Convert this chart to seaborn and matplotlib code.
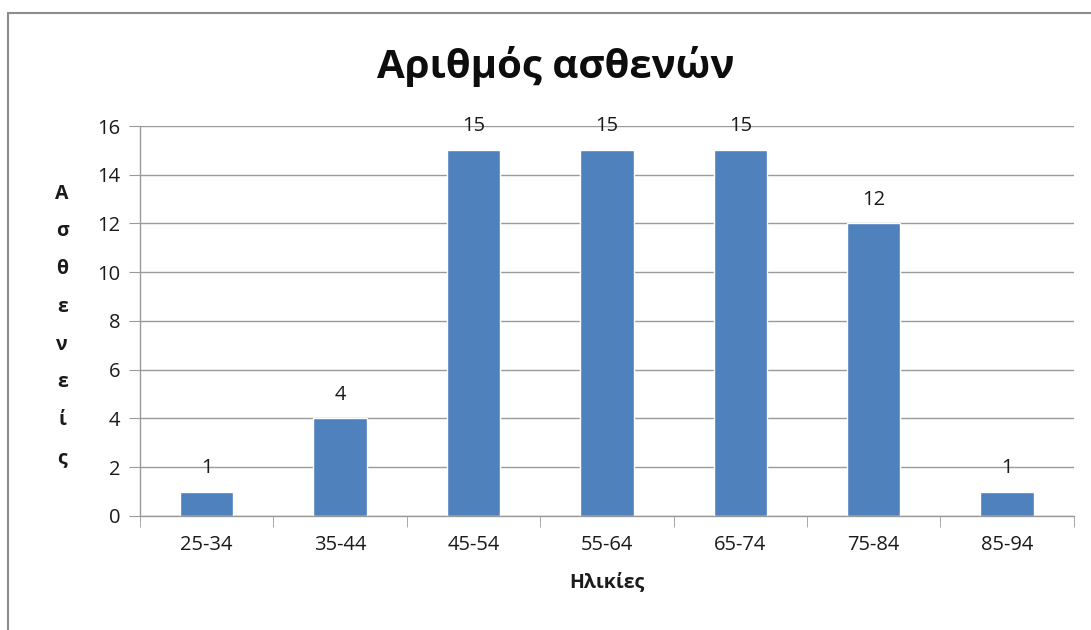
import numpy as np
import pandas as pd
import matplotlib
matplotlib.use("Agg")
import matplotlib.pyplot as plt
import seaborn as sns
from matplotlib.patches import Rectangle

# chart data
age_groups = ["25-34", "35-44", "45-54", "55-64", "65-74", "75-84", "85-94"]
patients = [1, 4, 15, 15, 15, 12, 1]

df = pd.DataFrame({"age": age_groups, "count": patients})

sns.set_style("white")
plt.rcParams['font.family'] = ['Open Sans', 'DejaVu Sans']

fig = plt.figure(figsize=(10.91, 6.3), dpi=100)
ax = fig.add_axes([0.1283, 0.181, 0.856, 0.619])

sns.barplot(data=df, x="age", y="count", color="#4F81BD", saturation=1,
            width=0.4, ax=ax)

ax.set_ylim(0, 16)
ax.set_yticks(range(0, 17, 2))
ax.set_xlim(-0.5, len(age_groups) - 0.5)

# horizontal gridlines
ax.yaxis.grid(True, color="#9a9a9a", linewidth=1)
ax.set_axisbelow(True)

for side in ["top", "right"]:
    ax.spines[side].set_visible(False)
for side in ["left", "bottom"]:
    ax.spines[side].set_color("#9a9a9a")
    ax.spines[side].set_linewidth(1)

# y ticks outward on left, x ticks at category boundaries
ax.tick_params(axis="y", direction="out", length=8, color="#9a9a9a",
               labelsize=14.5, pad=6, labelcolor="#1a1a1a", left=True)
ax.set_xticks(range(len(age_groups)))
ax.set_xticklabels(age_groups)
ax.tick_params(axis="x", length=0, labelsize=14.5, pad=14, labelcolor="#1a1a1a")
ax.set_xticks(np.arange(-0.5, len(age_groups), 1), minor=True)
ax.tick_params(axis="x", which="minor", direction="out", length=8,
               color="#9a9a9a", bottom=True)

# value labels
for container in ax.containers:
    ax.bar_label(container, padding=10, fontsize=14.5, color="#1a1a1a")

ax.set_xlabel("Ηλικίες", fontsize=14, fontweight="bold", labelpad=12,
              color="#1a1a1a")
ax.set_ylabel("")

# stacked vertical y label
fig.text(0.057, 0.483, "\n".join("Ασθενείς"), ha="center", va="center",
         fontsize=14, fontweight="bold", linespacing=2.18, color="#1a1a1a")

fig.text(0.509, 0.895, "Αριθμός ασθενών", ha="center", va="center",
         fontsize=29, fontweight="bold", color="#0d0d0d")

# outer chart border (right and bottom edges run off the image)
fig.patches.append(Rectangle((0.0075, -0.05), 1.1, 1.03, transform=fig.transFigure,
                             fill=False, edgecolor="#8c8c8c", linewidth=1.5))

fig.savefig("out.png", dpi=100)
